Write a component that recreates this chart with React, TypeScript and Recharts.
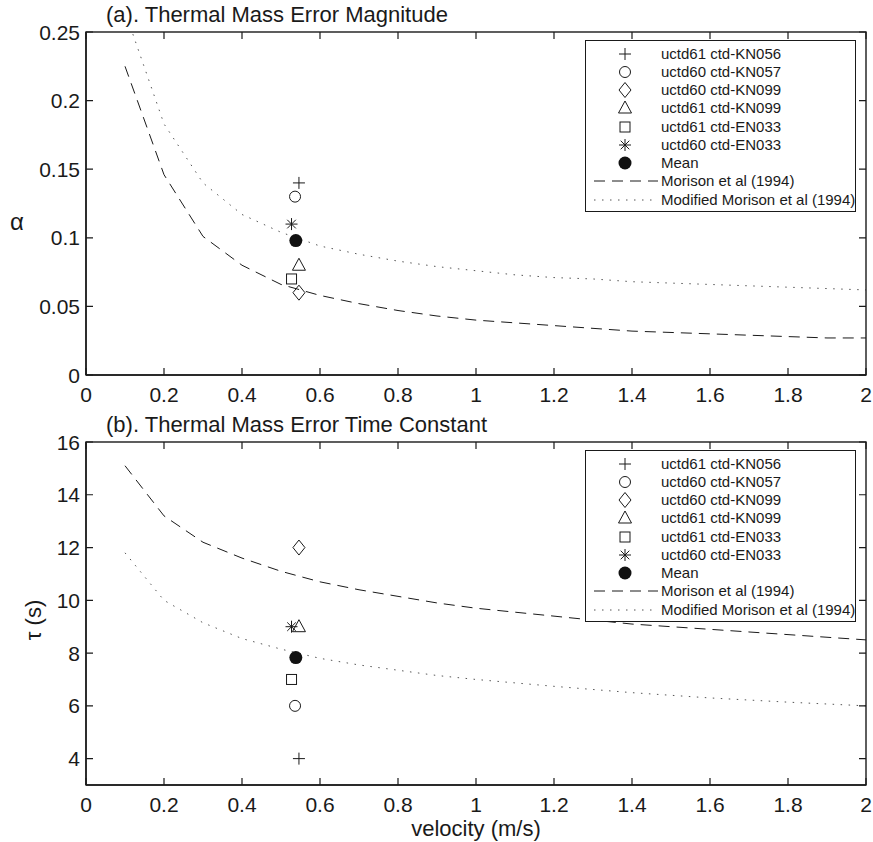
import React from 'react'
import { ComposedChart, Line, Scatter, XAxis, YAxis } from 'recharts'

// velocity grid of the two reference curves (m/s)
const velocityGrid = [0.1, 0.2, 0.3, 0.4, 0.5, 0.6, 0.7, 0.8, 0.9, 1.0, 1.1, 1.2, 1.3, 1.4, 1.5, 1.6, 1.7, 1.8, 1.9, 2.0]

// panel (a): alpha
const alphaMorison = [0.225, 0.146, 0.101, 0.080, 0.066, 0.058, 0.052, 0.047, 0.043, 0.040, 0.038, 0.036, 0.034, 0.032, 0.031, 0.030, 0.029, 0.028, 0.027, 0.027]
const alphaModified = [0.265, 0.183, 0.140, 0.117, 0.104, 0.094, 0.088, 0.083, 0.079, 0.076, 0.073, 0.071, 0.070, 0.068, 0.067, 0.066, 0.065, 0.064, 0.063, 0.062]

// panel (b): tau
const tauMorison = [15.1, 13.2, 12.2, 11.6, 11.1, 10.7, 10.4, 10.15, 9.9, 9.7, 9.55, 9.4, 9.25, 9.1, 9.0, 8.9, 8.8, 8.7, 8.6, 8.5]
const tauModified = [11.8, 10.0, 9.15, 8.55, 8.15, 7.8, 7.55, 7.35, 7.15, 7.0, 6.87, 6.74, 6.62, 6.5, 6.4, 6.3, 6.22, 6.14, 6.07, 6.0]

// individual casts
const castNames = ['uctd61 ctd-KN056', 'uctd60 ctd-KN057', 'uctd60 ctd-KN099', 'uctd61 ctd-KN099', 'uctd61 ctd-EN033', 'uctd60 ctd-EN033', 'Mean']
const castShapes = ['plus', 'circle', 'diamond', 'triangle', 'square', 'star', 'dot']
const castVelocity = [0.546, 0.536, 0.546, 0.546, 0.527, 0.527, 0.538]
const castAlpha = [0.14, 0.13, 0.06, 0.08, 0.07, 0.11, 0.098]
const castTau = [4, 6, 12, 9, 7, 9, 7.83]

const velocityTicks = [0, 0.2, 0.4, 0.6, 0.8, 1, 1.2, 1.4, 1.6, 1.8, 2]
const alphaTicks = [0, 0.05, 0.1, 0.15, 0.2, 0.25]
const tauTicks = [4, 6, 8, 10, 12, 14, 16]

const curveNames = ['Morison et al (1994)', 'Modified Morison et al (1994)']

const FONT = '"Liberation Sans", Arial, Helvetica, sans-serif'
const INK = '#1a1a1a'
const TICK = 7
const PLOT_W = 780

function Marker({ kind, cx, cy }: { kind: string; cx: number; cy: number }) {
  const s = { stroke: INK, strokeWidth: 1, fill: 'none' }
  switch (kind) {
    case 'plus':
      return <path d={`M${cx - 6},${cy}H${cx + 6}M${cx},${cy - 6}V${cy + 6}`} {...s} />
    case 'circle':
      return <circle cx={cx} cy={cy} r={5.5} {...s} />
    case 'diamond':
      return <path d={`M${cx},${cy - 7.5}L${cx + 6},${cy}L${cx},${cy + 7.5}L${cx - 6},${cy}Z`} {...s} />
    case 'triangle':
      return <path d={`M${cx},${cy - 7}L${cx + 6.5},${cy + 5}L${cx - 6.5},${cy + 5}Z`} {...s} />
    case 'square':
      return <rect x={cx - 5} y={cy - 5} width={10} height={10} {...s} />
    case 'star':
      return (
        <path
          d={`M${cx},${cy - 6}V${cy + 6}M${cx - 6},${cy}H${cx + 6}M${cx - 4.3},${cy - 4.3}L${cx + 4.3},${cy + 4.3}M${cx - 4.3},${cy + 4.3}L${cx + 4.3},${cy - 4.3}`}
          {...s}
        />
      )
    default:
      return <circle cx={cx} cy={cy} r={6.5} fill="#111" />
  }
}

// bottom ticks also mark the top edge of the box
const BottomTick = (p: any) => (
  <g>
    <path d={`M${p.x},${p.y}v${-TICK}M${p.x},${p.y - p.plotH}v${TICK}`} stroke={INK} strokeWidth={1.2} fill="none" />
    <text x={p.x} y={p.y + 27} textAnchor="middle" fontSize={21} fill={INK} stroke="none" fontFamily={FONT}>
      {String(p.payload.value)}
    </text>
  </g>
)
// left ticks also mark the right edge of the box
const LeftTick = (p: any) => (
  <g>
    <path d={`M${p.x},${p.y}h${TICK}M${p.x + PLOT_W},${p.y}h${-TICK}`} stroke={INK} strokeWidth={1.2} fill="none" />
    <text x={p.x - 6} y={p.y} dy="0.36em" textAnchor="end" fontSize={21} fill={INK} stroke="none" fontFamily={FONT}>
      {String(p.payload.value)}
    </text>
  </g>
)

function LegendBox({ top }: { top: number }) {
  const rows = [...castNames.map((n, i) => ({ n, kind: castShapes[i] })), { n: curveNames[0], kind: 'dash' }, { n: curveNames[1], kind: 'dots' }]
  return (
    <div
      style={{
        position: 'absolute', left: 585, top, width: 271, height: 172, boxSizing: 'border-box',
        border: `1.5px solid ${INK}`, background: '#fff', fontFamily: FONT, color: INK,
      }}
    >
      {rows.map((r, i) => (
        <div key={r.n} style={{ position: 'absolute', left: 0, top: 12.5 + i * 18.25 - 9, height: 18, width: 268 }}>
          <svg width={72} height={18} style={{ position: 'absolute', left: 0, top: 0 }}>
            {r.kind === 'dash' ? (
              <line x1={8} x2={72} y1={9} y2={9} stroke={INK} strokeDasharray="11 7" />
            ) : r.kind === 'dots' ? (
              <line x1={8} x2={72} y1={9} y2={9} stroke="#555" strokeDasharray="1.5 6.5" />
            ) : (
              <Marker kind={r.kind} cx={39} cy={9} />
            )}
          </svg>
          <span style={{ position: 'absolute', left: 75, top: 0, fontSize: 15, lineHeight: '18px', whiteSpace: 'nowrap' }}>{r.n}</span>
        </div>
      ))}
    </div>
  )
}

function Panel({
  top, height, margin, morison, modified, castY, yDomain, yTicks,
}: {
  top: number; height: number; margin: { top: number; right: number; bottom: number; left: number }
  morison: number[]; modified: number[]; castY: number[]; yDomain: [number, number]; yTicks: number[]
}) {
  const curves = velocityGrid.map((v, i) => ({ v, morison: morison[i], modified: modified[i] }))
  const axisLine = { stroke: INK, strokeWidth: 1.4 }
  const plotH = height - margin.top - margin.bottom - 1
  return (
    <div style={{ position: 'absolute', left: 0, top, width: 873, height }}>
      <ComposedChart width={873} height={height} data={curves} margin={margin}>
        <XAxis dataKey="v" type="number" domain={[0, 2]} ticks={velocityTicks} interval={0} allowDataOverflow
          height={1} tickSize={0} tickMargin={0} axisLine={axisLine} tick={<BottomTick plotH={plotH} />} />
        <YAxis type="number" domain={yDomain} ticks={yTicks} interval={0} allowDataOverflow
          width={1} tickSize={0} tickMargin={0} axisLine={axisLine} tick={<LeftTick />} />
        <Line dataKey="morison" type="linear" stroke={INK} strokeWidth={1} strokeDasharray="11 7" dot={false} isAnimationActive={false} />
        <Line dataKey="modified" type="linear" stroke="#555" strokeWidth={1} strokeDasharray="1.5 6.5" dot={false} isAnimationActive={false} />
        {castNames.map((n, i) => (
          <Scatter
            key={n}
            name={n}
            data={[{ v: castVelocity[i], y: castY[i] }]}
            dataKey="y"
            isAnimationActive={false}
            shape={(p: any) => <Marker kind={castShapes[i]} cx={p.cx} cy={p.cy} />}
          />
        ))}
      </ComposedChart>
      {/* box around the plot area, closes the top and right edges */}
      <svg width={873} height={height} style={{ position: 'absolute', left: 0, top: 0, pointerEvents: 'none' }}>
        <rect x={margin.left + 1} y={margin.top} width={PLOT_W} height={plotH} fill="none" stroke={INK} strokeWidth={1.4} />
      </svg>
      <LegendBox top={margin.top + 8} />
    </div>
  )
}

export default function App() {
  return (
    <div style={{ position: 'absolute', left: 0, top: 0, width: 873, height: 842, background: '#fff', fontFamily: FONT }}>
      <Panel top={0} height={420} margin={{ top: 32, right: 7, bottom: 44, left: 85 }}
        morison={alphaMorison} modified={alphaModified} castY={castAlpha} yDomain={[0, 0.25]} yTicks={alphaTicks} />
      <Panel top={420} height={422} margin={{ top: 22, right: 7, bottom: 56, left: 85 }}
        morison={tauMorison} modified={tauModified} castY={castTau} yDomain={[3, 16]} yTicks={tauTicks} />
      <svg width={873} height={842} style={{ position: 'absolute', left: 0, top: 0, pointerEvents: 'none' }}>
        <g fontFamily={FONT} fill={INK}>
          <text x={106} y={22} fontSize={22}>(a). Thermal Mass Error Magnitude</text>
          <text x={106} y={432} fontSize={22}>(b). Thermal Mass Error Time Constant</text>
          <text x={476} y={836} fontSize={22} textAnchor="middle">velocity (m/s)</text>
          <text x={17} y={230} fontSize={24} textAnchor="middle">α</text>
          <text x={33} y={620} fontSize={22} textAnchor="middle" dy="0.35em" transform="rotate(-90 33 620)">τ (s)</text>
        </g>
      </svg>
    </div>
  )
}
